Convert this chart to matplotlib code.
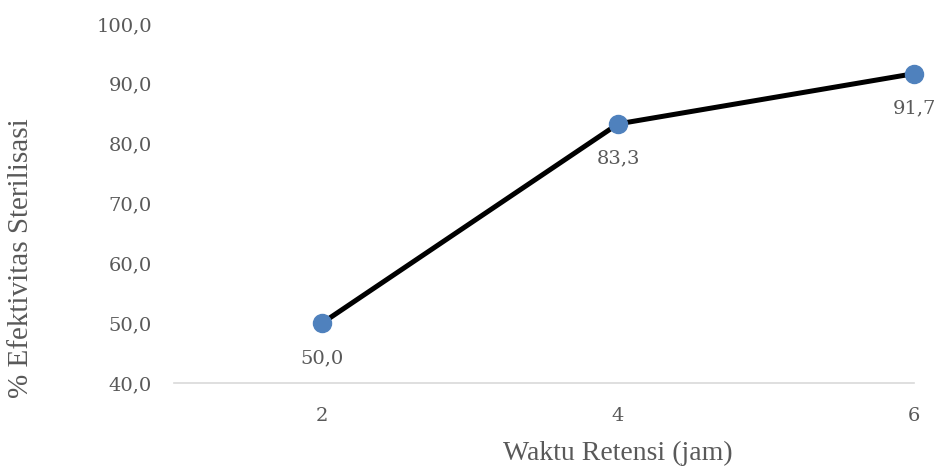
import matplotlib
matplotlib.use("Agg")
import matplotlib.pyplot as plt

x_vals = [2, 4, 6]
y_vals = [50.0, 83.3, 91.7]
x_ticks = [2, 4, 6]
y_ticks = [40, 50, 60, 70, 80, 90, 100]

gray = "#595959"
W, H = 936, 467
fig = plt.figure(figsize=(W / 100, H / 100), dpi=100)
ax = fig.add_axes([174/W, 84/H, (914-174)/W, (383-24)/H])

ax.plot(x_vals, y_vals, color="black", lw=3.6, marker="o", ms=13,
        mfc="#4F81BD", mec="#4F81BD", clip_on=False, zorder=3)
for xv, yv in zip(x_vals, y_vals):
    ax.annotate(f"{yv:.1f}".replace(".", ","), (xv, yv), xytext=(0, -25),
                textcoords="offset points", ha="center", va="center",
                fontsize=14, color=gray, family="DejaVu Serif")

ax.set_xlim(1, 6)
ax.set_ylim(40, 100)
ax.set_xticks(x_ticks)
ax.set_xticklabels([str(v) for v in x_ticks])
ax.set_yticks(y_ticks)
ax.set_yticklabels([f"{v:.1f}".replace(".", ",") for v in y_ticks])
for lab in ax.get_xticklabels() + ax.get_yticklabels():
    lab.set_family("DejaVu Serif")
    lab.set_fontsize(14)
    lab.set_color(gray)
ax.tick_params(axis="both", length=0)
ax.tick_params(axis="x", pad=17)
ax.tick_params(axis="y", pad=16)
for s in ["top", "right", "left"]:
    ax.spines[s].set_visible(False)
ax.spines["bottom"].set_color("#D9D9D9")
ax.spines["bottom"].set_linewidth(1.2)

fig.text(618/W, 1 - 453/H, "Waktu Retensi (jam)", family="Liberation Serif",
         fontsize=20, color=gray, ha="center", va="center")
fig.text(21/W, 1 - 258/H, "% Efektivitas Sterilisasi", family="Liberation Serif",
         fontsize=21, color=gray, ha="center", va="center", rotation=90)
fig.savefig("out.png", dpi=100)
